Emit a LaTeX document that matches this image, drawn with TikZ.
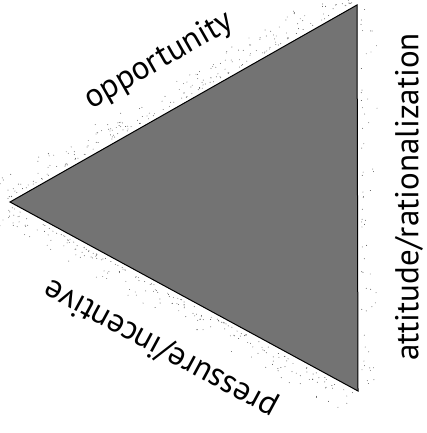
\documentclass[tikz,border=0pt]{standalone}
\usepackage{fontspec}
\setmainfont{PT Sans}
\usetikzlibrary{calc}

\tikzset{
  sidelabel/.style={font=\fontsize{33}{34}\selectfont,inner sep=0pt},
  speck/.style={fill=black!70}
}

\begin{document}
\begin{tikzpicture}[x=1pt,y=1pt]
\useasboundingbox (0,0) rectangle (427,433);
% corners of the triangle
\coordinate (lft) at (10,231);
\coordinate (top) at (357,428);
\coordinate (bot) at (358,42);
\fill[black!55,draw=black,line width=1pt,line join=miter] (lft) -- (top) -- (bot) -- cycle;
% loose specks outside the edges
\pgfmathsetseed{11}
\foreach \i in {1,...,220}{
  \pgfmathsetmacro{\t}{rnd}
  \pgfmathsetmacro{\d}{4+22*rnd^2}
  \fill[speck] ($(lft)!\t!(top)+(-0.49*\d,0.87*\d)$) circle (0.45);
  \pgfmathsetmacro{\s}{rnd}
  \pgfmathsetmacro{\e}{4+22*rnd^2}
  \fill[speck] ($(lft)!\s!(bot)+(-0.47*\e,-0.88*\e)$) circle (0.45);
}
\foreach \i in {1,...,60}{
  \pgfmathsetmacro{\t}{rnd}
  \pgfmathsetmacro{\d}{4+16*rnd^2}
  \fill[speck] ($(bot)!\t!(top)+(\d,0)$) circle (0.45);
}
\node[sidelabel,rotate=29.7] (opp) at (159,372) {opportunity};
\node[sidelabel,rotate=90] (att) at (409,236) {attitude/rationalization};
\node[sidelabel,rotate=151.6] (pre) at (161,85) {pressure/incentive};
\end{tikzpicture}
\end{document}
